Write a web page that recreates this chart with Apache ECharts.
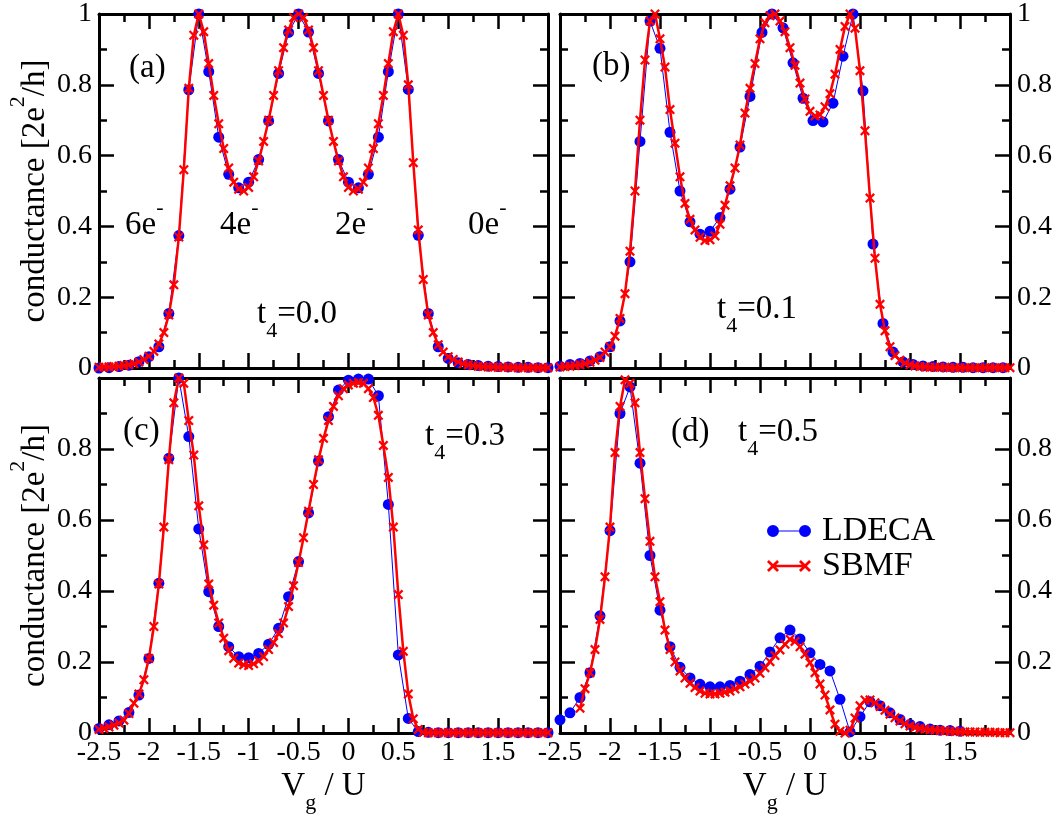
<!DOCTYPE html>
<html>
<head>
<meta charset="utf-8">
<script src="https://cdn.jsdelivr.net/npm/echarts@6/dist/echarts.min.js"></script>
<style>
  html, body { margin: 0; padding: 0; background: #fff; }
  #chart { width: 1056px; height: 818px; }
</style>
</head>
<body>
<div id="chart"></div>
<script>
'use strict';

// sampling grids (x = V_g / U)
function grid(start, step, n) {
    var a = [];
    for (var i = 0; i < n; i++) a.push(+(start + step * i).toFixed(2));
    return a;
}
var X_LD = grid(-2.5, 0.1, 46);
var X_LD_D = grid(-2.5, 0.1, 41);
var X_SB = grid(-2.5, 0.05, 91);
var X_SB_D = grid(-2.3, 0.05, 87);
var X_LD_B = [-2.5, -2.4, -2.3, -2.2, -2.1, -2.0, -1.9, -1.8, -1.7, -1.6,
    -1.5, -1.4, -1.3, -1.2, -1.1, -1.0, -0.9, -0.8, -0.7, -0.6,
    -0.48, -0.38, -0.27, -0.17, -0.07, 0.03, 0.13, 0.23, 0.33, 0.43, 0.53,
    0.63, 0.73, 0.83, 0.93, 1.03, 1.13, 1.23, 1.33, 1.43, 1.53, 1.63, 1.73, 1.83, 1.93];

// (a) t4 = 0.0
var LDECA_A = [0.000, 0.001, 0.004, 0.008, 0.018, 0.032, 0.060, 0.154, 0.374, 0.786,
    1.000, 0.837, 0.652, 0.547, 0.509, 0.525, 0.589, 0.698, 0.832, 0.948,
    1.000, 0.949, 0.832, 0.698, 0.589, 0.525, 0.509, 0.547, 0.652, 0.837,
    1.000, 0.787, 0.375, 0.154, 0.060, 0.027, 0.015, 0.010, 0.007, 0.005,
    0.004, 0.003, 0.002, 0.002, 0.001, 0.001];
var SBMF_A = [0.002, 0.003, 0.003, 0.004, 0.005, 0.007, 0.009, 0.012, 0.017, 0.024,
    0.033, 0.047, 0.068, 0.100, 0.150, 0.235, 0.370, 0.560, 0.790, 0.940,
    1.000, 0.950, 0.860, 0.770, 0.690, 0.620, 0.565, 0.525, 0.505, 0.500,
    0.510, 0.540, 0.585, 0.640, 0.700, 0.770, 0.840, 0.905, 0.955, 0.990,
    1.000, 0.990, 0.955, 0.905, 0.840, 0.770, 0.700, 0.640, 0.585, 0.540,
    0.510, 0.500, 0.505, 0.525, 0.565, 0.620, 0.690, 0.770, 0.860, 0.950,
    1.000, 0.940, 0.800, 0.580, 0.390, 0.250, 0.150, 0.100, 0.066, 0.045,
    0.032, 0.024, 0.017, 0.012, 0.009, 0.007, 0.005, 0.004, 0.003, 0.003,
    0.002, 0.002, 0.002, 0.002, 0.001, 0.001, 0.001, 0.001, 0.001, 0.001, 0.001];

// (b) t4 = 0.1
var LDECA_B = [0.005, 0.010, 0.013, 0.020, 0.032, 0.060, 0.133, 0.300, 0.640, 0.980,
    0.903, 0.666, 0.500, 0.413, 0.378, 0.386, 0.425, 0.505, 0.624, 0.767,
    0.948, 1.000, 0.961, 0.862, 0.762, 0.699, 0.695, 0.748, 0.881, 1.000, 0.783,
    0.350, 0.126, 0.045, 0.017, 0.010, 0.006, 0.004, 0.003, 0.002,
    0.002, 0.001, 0.001, 0.001, 0.001];
var SBMF_B = [0.003, 0.004, 0.005, 0.007, 0.009, 0.012, 0.016, 0.022, 0.030, 0.045,
    0.060, 0.090, 0.140, 0.210, 0.330, 0.500, 0.700, 0.870, 0.980, 1.000,
    0.930, 0.850, 0.730, 0.635, 0.540, 0.465, 0.420, 0.390, 0.369, 0.360,
    0.362, 0.373, 0.406, 0.460, 0.515, 0.565, 0.630, 0.720, 0.790, 0.860,
    0.930, 0.975, 0.995, 1.000, 0.980, 0.950, 0.905, 0.855, 0.805, 0.760,
    0.725, 0.712, 0.715, 0.738, 0.775, 0.830, 0.900, 0.965, 1.000, 0.960,
    0.840, 0.670, 0.480, 0.310, 0.180, 0.105, 0.060, 0.035, 0.022, 0.014,
    0.009, 0.006, 0.004, 0.003, 0.002, 0.002, 0.002, 0.002, 0.001, 0.001,
    0.001, 0.001, 0.001, 0.001, 0.001, 0.001, 0.001, 0.001, 0.001, 0.001, 0.001];

// (c) t4 = 0.3
var LDECA_C = [0.013, 0.023, 0.034, 0.058, 0.107, 0.210, 0.422, 0.774, 1.000, 0.835,
    0.575, 0.398, 0.300, 0.243, 0.215, 0.212, 0.224, 0.250, 0.295, 0.384,
    0.483, 0.620, 0.766, 0.891, 0.966, 0.994, 0.997, 0.997, 0.950, 0.644,
    0.220, 0.041, 0.004, 0.002, 0.001, 0.001, 0.001, 0.001, 0.001, 0.001,
    0.001, 0.001, 0.001, 0.001, 0.001, 0.001];
var SBMF_C = [0.010, 0.013, 0.017, 0.022, 0.028, 0.036, 0.055, 0.084, 0.110, 0.150,
    0.210, 0.300, 0.420, 0.580, 0.770, 0.930, 1.000, 0.985, 0.880, 0.783,
    0.640, 0.530, 0.420, 0.360, 0.310, 0.267, 0.232, 0.210, 0.197, 0.192,
    0.190, 0.195, 0.203, 0.215, 0.235, 0.255, 0.280, 0.310, 0.356, 0.415,
    0.480, 0.550, 0.625, 0.700, 0.770, 0.830, 0.880, 0.920, 0.950, 0.970,
    0.980, 0.985, 0.987, 0.985, 0.970, 0.945, 0.895, 0.810, 0.720, 0.580,
    0.390, 0.230, 0.110, 0.040, 0.010, 0.002, 0.001, 0.001, 0.001, 0.001,
    0.001, 0.001, 0.001, 0.001, 0.001, 0.001, 0.001, 0.001, 0.001, 0.001,
    0.001, 0.001, 0.001, 0.001, 0.001, 0.001, 0.001, 0.001, 0.001, 0.001, 0.001];

// (d) t4 = 0.5
var LDECA_D = [0.037, 0.057, 0.100, 0.170, 0.330, 0.570, 0.900, 0.975, 0.760, 0.500,
    0.346, 0.243, 0.185, 0.155, 0.137, 0.130, 0.130, 0.134, 0.146, 0.165,
    0.188, 0.228, 0.268, 0.290, 0.265, 0.226, 0.193, 0.175, 0.095, 0.003,
    0.046, 0.088, 0.077, 0.057, 0.038, 0.024, 0.018, 0.011, 0.008, 0.007,
    0.005];
var SBMF_D = [0.070, 0.125, 0.170, 0.235, 0.320, 0.440, 0.580, 0.790, 0.920, 0.995,
    0.985, 0.930, 0.790, 0.660, 0.540, 0.440, 0.370, 0.290, 0.235, 0.200,
    0.175, 0.155, 0.140, 0.128, 0.118, 0.112, 0.110, 0.110, 0.112, 0.115,
    0.118, 0.124, 0.130, 0.138, 0.146, 0.155, 0.168, 0.184, 0.201, 0.218,
    0.234, 0.250, 0.264, 0.258, 0.243, 0.222, 0.198, 0.170, 0.138, 0.107,
    0.065, 0.025, 0.005, 0.000, 0.008, 0.042, 0.077, 0.093, 0.093, 0.085,
    0.075, 0.064, 0.053, 0.043, 0.034, 0.026, 0.020, 0.016, 0.013, 0.011,
    0.009, 0.008, 0.007, 0.006, 0.005, 0.004, 0.004, 0.003, 0.003, 0.003,
    0.002, 0.002, 0.002, 0.002, 0.001, 0.001, 0.001];

var PANEL_LETTERS = ['(a)', '(b)', '(c)', '(d)'];
var T4_VALUES = ['0.0', '0.1', '0.3', '0.5'];
var CHARGE_LABELS = ['6', '4', '2', '0'];
var SERIES_NAMES = ['LDECA', 'SBMF'];

function pairs(xs, ys) {
    return ys.map(function (y, i) { return [xs[i], y]; });
}

var panels = [
    {ld: pairs(X_LD, LDECA_A), sb: pairs(X_SB, SBMF_A)},
    {ld: pairs(X_LD_B, LDECA_B), sb: pairs(X_SB, SBMF_B)},
    {ld: pairs(X_LD, LDECA_C), sb: pairs(X_SB, SBMF_C)},
    {ld: pairs(X_LD_D, LDECA_D), sb: pairs(X_SB_D, SBMF_D)}
];

var FONT = 'Liberation Serif';
var BLUE = '#0000ff', RED = '#ff0000';
var CROSS = 'path://M0,1.6L1.6,0L5,3.4L8.4,0L10,1.6L6.6,5L10,8.4L8.4,10L5,6.6L1.6,10L0,8.4L3.4,5Z';
var ICON_LDECA = 'path://M0,6a6,6 0 1,0 12,0a6,6 0 1,0 -12,0ZM32,6a6,6 0 1,0 12,0a6,6 0 1,0 -12,0ZM12,5.4L32,5.4L32,6.6L12,6.6Z';
var ICON_SBMF = 'path://M0,1.9L1.9,0L6,4.1L10.1,0L12,1.9L7.9,6L12,10.1L10.1,12L6,7.9L1.9,12L0,10.1L4.1,6ZM32,1.9L33.9,0L38,4.1L42.1,0L44,1.9L39.9,6L44,10.1L42.1,12L38,7.9L33.9,12L32,10.1L36.1,6ZM8,4.8L36,4.8L36,7.2L8,7.2Z';

// panel boxes: left, top, width, height
var boxes = [[99, 12, 449, 356], [560, 12, 450, 356], [99, 378, 449, 355], [560, 378, 450, 355]];

var lineStyle = {color: '#000', width: 3};
var tickStyle = {color: '#000', width: 2.5};
var labelFont = {fontFamily: FONT, fontSize: 28, color: '#000'};

var subRich = {
    m: {fontFamily: FONT, fontSize: 33, color: '#000', lineHeight: 36, padding: [0, 0, 10, 0]},
    s: {fontFamily: FONT, fontSize: 22, color: '#000', lineHeight: 22, padding: [24, 0, 0, 0]}
};
var supRich = {
    m: {fontFamily: FONT, fontSize: 33, color: '#000', lineHeight: 36, padding: [10, 0, 0, 0]},
    p: {fontFamily: FONT, fontSize: 22, color: '#000', lineHeight: 22, padding: [0, 0, 24, 0]}
};
var chargeRich = {
    m: {fontFamily: FONT, fontSize: 33, color: '#000', lineHeight: 36, padding: [12, 0, 0, 0]},
    p: {fontFamily: FONT, fontSize: 22, color: '#000', lineHeight: 22, padding: [2, 0, 24, 0]}
};

var grids = [], xAxes = [], yAxes = [], series = [];

boxes.forEach(function (b, i) {
    var bottomRow = i >= 2, leftCol = i % 2 === 0;
    grids.push({left: b[0], top: b[1], width: b[2], height: b[3], containLabel: false});

    ['bottom', 'top'].forEach(function (pos) {
        var showLab = pos === 'bottom' && bottomRow;
        xAxes.push({
            type: 'value', gridIndex: i, position: pos,
            min: -2.5, max: 2, interval: 0.5,
            axisLine: {show: true, onZero: false, lineStyle: lineStyle},
            axisTick: {show: true, inside: true, length: 15, lineStyle: tickStyle},
            minorTick: {show: true, splitNumber: 2, length: 8, lineStyle: tickStyle},
            splitLine: {show: false},
            axisLabel: Object.assign({show: showLab, margin: 6, showMaxLabel: false, showMinLabel: true}, labelFont),
            name: showLab ? '{m|V}{s|g}{m| / U}' : '',
            nameLocation: 'middle', nameGap: 40,
            nameTextStyle: {rich: subRich}
        });
    });

    ['left', 'right'].forEach(function (pos) {
        var showLab = (pos === 'left') === leftCol;
        yAxes.push({
            type: 'value', gridIndex: i, position: pos,
            min: 0, max: 1, interval: 0.2,
            axisLine: {show: true, onZero: false, lineStyle: lineStyle},
            axisTick: {show: true, inside: true, length: 15, lineStyle: tickStyle},
            minorTick: {show: true, splitNumber: 2, length: 8, lineStyle: tickStyle},
            splitLine: {show: false},
            axisLabel: Object.assign({show: showLab, margin: 7, showMaxLabel: !bottomRow, showMinLabel: true}, labelFont),
            name: (pos === 'left' && leftCol) ? '{m|conductance [2e}{p|2}{m|/h]}' : '',
            nameLocation: 'middle', nameRotate: 90, nameGap: 49,
            nameTextStyle: {rich: supRich}
        });
    });

    series.push({
        type: 'line', name: SERIES_NAMES[0],
        xAxisIndex: 2 * i, yAxisIndex: 2 * i,
        data: panels[i].ld,
        symbol: 'circle', symbolSize: 11, showAllSymbol: true,
        lineStyle: {color: BLUE, width: 1},
        itemStyle: {color: BLUE},
        clip: false, z: 2
    });
    series.push({
        type: 'line', name: SERIES_NAMES[1],
        xAxisIndex: 2 * i, yAxisIndex: 2 * i,
        data: panels[i].sb,
        symbol: CROSS, symbolSize: 10, showAllSymbol: true,
        lineStyle: {color: RED, width: 2.5},
        itemStyle: {color: RED},
        clip: false, z: 3
    });
});

function textEl(text, x, y, rich, size) {
    var style = {
        text: text, x: x, y: y,
        fill: '#000',
        align: 'left', verticalAlign: 'middle',
        textAlign: 'left', textVerticalAlign: 'middle'
    };
    if (rich) {
        style.rich = rich;
    } else {
        style.font = size + 'px "' + FONT + '"';
    }
    return {type: 'text', silent: true, z: 10, style: style};
}

var letterPos = [[129, 68], [592, 66], [123, 431], [671, 432]];
var t4Pos = [[257, 319], [717, 314], [425, 441], [738, 437]];
var chargePos = [[125, 219], [220, 219], [335, 219], [468, 219]];

var graphics = [];
PANEL_LETTERS.forEach(function (s, i) {
    graphics.push(textEl(s, letterPos[i][0], letterPos[i][1], null, 33));
});
T4_VALUES.forEach(function (v, i) {
    graphics.push(textEl('{m|t}{s|4}{m|=' + v + '}', t4Pos[i][0], t4Pos[i][1], subRich));
});
CHARGE_LABELS.forEach(function (n, i) {
    graphics.push(textEl('{m|' + n + 'e}{p|-}', chargePos[i][0], chargePos[i][1], chargeRich));
});

var chart = echarts.init(document.getElementById('chart'), null, {renderer: 'canvas'});
chart.setOption({
    backgroundColor: '#fff',
    animation: false,
    grid: grids,
    xAxis: xAxes,
    yAxis: yAxes,
    legend: {
        data: [{name: 'LDECA', icon: ICON_LDECA}, {name: 'SBMF', icon: ICON_SBMF}],
        orient: 'vertical', left: 762, top: 509,
        itemWidth: 44, itemHeight: 12, itemGap: 1,
        selectedMode: false,
        textStyle: {fontFamily: FONT, fontSize: 34, lineHeight: 32, color: '#000', padding: [0, 0, 0, 6]}
    },
    graphic: graphics,
    series: series
});
</script>
</body>
</html>
